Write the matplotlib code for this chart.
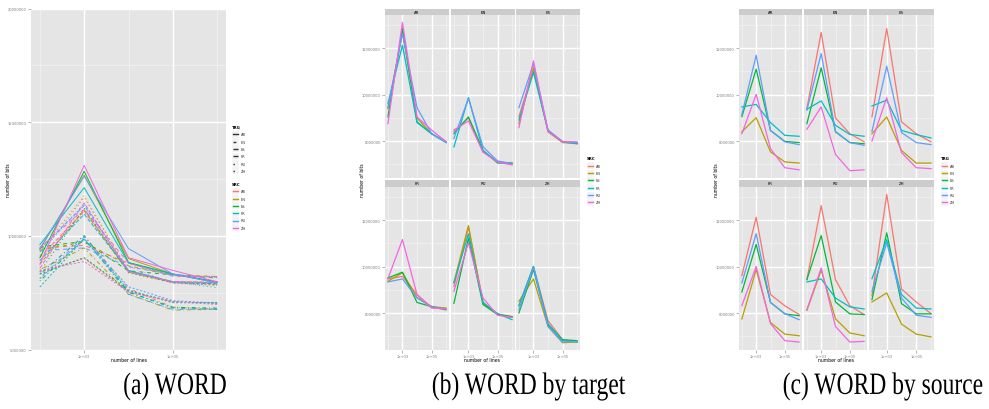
import matplotlib
matplotlib.use('Agg')
import matplotlib.pyplot as plt
from matplotlib.lines import Line2D
from matplotlib.patches import Rectangle, PathPatch
from matplotlib.textpath import TextPath
from matplotlib.font_manager import FontProperties
from matplotlib.transforms import Affine2D, IdentityTransform

W, H = 989, 410

# x values (number of lines) and languages
n_lines = [1e2, 1e3, 1e4, 1e5, 1e6]
langs = ['AR', 'EN', 'ES', 'FR', 'RU', 'ZH']

# number of bits, per source language, one list per target language
src_AR = {'EN': [8.40e6, 9.01e6, 7.54e6, 7.11e6, 7.06e6],
          'ES': [9.05e6, 11.09e6, 8.46e6, 7.99e6, 7.94e6],
          'FR': [9.47e6, 9.58e6, 8.80e6, 8.25e6, 8.21e6],
          'RU': [9.14e6, 11.69e6, 8.46e6, 7.97e6, 7.85e6],
          'ZH': [8.32e6, 10.01e6, 7.68e6, 6.86e6, 6.77e6]}
src_EN = {'AR': [9.40e6, 12.67e6, 9.00e6, 8.32e6, 7.97e6],
          'ES': [8.75e6, 11.15e6, 8.40e6, 7.94e6, 7.89e6],
          'FR': [9.37e6, 9.73e6, 8.68e6, 8.29e6, 8.21e6],
          'RU': [9.33e6, 11.76e6, 8.42e6, 7.94e6, 7.82e6],
          'ZH': [8.51e6, 9.47e6, 7.43e6, 6.73e6, 6.77e6]}
src_ES = {'AR': [9.04e6, 12.84e6, 8.83e6, 8.32e6, 7.97e6],
          'EN': [8.32e6, 9.04e6, 7.60e6, 7.06e6, 7.06e6],
          'FR': [9.51e6, 9.76e6, 8.46e6, 8.28e6, 8.14e6],
          'RU': [8.42e6, 11.22e6, 8.37e6, 7.94e6, 7.85e6],
          'ZH': [8.01e6, 9.87e6, 7.51e6, 6.86e6, 6.82e6]}
src_FR = {'AR': [9.61e6, 12.12e6, 8.80e6, 8.32e6, 7.94e6],
          'EN': [7.75e6, 9.87e6, 7.60e6, 7.10e6, 7.03e6],
          'ES': [8.91e6, 10.95e6, 8.46e6, 7.97e6, 7.89e6],
          'RU': [9.30e6, 11.41e6, 8.46e6, 7.98e6, 7.72e6],
          'ZH': [8.32e6, 10.01e6, 7.55e6, 6.82e6, 6.76e6]}
src_RU = {'AR': [9.44e6, 12.62e6, 9.44e6, 8.32e6, 7.94e6],
          'EN': [8.12e6, 9.84e6, 7.76e6, 7.15e6, 7.03e6],
          'ES': [9.44e6, 11.33e6, 8.48e6, 7.97e6, 7.94e6],
          'FR': [9.34e6, 9.47e6, 8.65e6, 8.27e6, 8.18e6],
          'ZH': [8.15e6, 9.94e6, 7.43e6, 6.76e6, 6.79e6]}
src_ZH = {'AR': [8.75e6, 13.10e6, 9.04e6, 8.48e6, 7.98e6],
          'EN': [8.48e6, 8.87e6, 7.53e6, 7.10e6, 6.98e6],
          'ES': [8.58e6, 11.45e6, 8.41e6, 7.97e6, 7.97e6],
          'FR': [9.48e6, 11.16e6, 8.80e6, 8.22e6, 8.18e6],
          'RU': [8.94e6, 11.02e6, 8.65e6, 7.91e6, 7.82e6]}

bits = {'AR': src_AR, 'EN': src_EN, 'ES': src_ES,
        'FR': src_FR, 'RU': src_RU, 'ZH': src_ZH}

captions = ['(a) WORD', '(b) WORD by target', '(c) WORD by source']

# ggplot default hue palette and linetypes
hue = dict(zip(langs, ['#F8766D', '#B79F00', '#00BA38', '#00BFC4', '#619CFF', '#F564E3']))
ltype = dict(zip(langs, ['-', (0, (2, 2)), (0, (4, 2)), (0, (4, 4)), (0, (1, 3)), (0, (1, 3, 4, 3))]))

GREY_TXT = '#7F7F7F'


def px_axes(fig, x0, y0, x1, y1):
    return fig.add_axes([x0 / W, 1 - y1 / H, (x1 - x0) / W, (y1 - y0) / H])


def style_panel(ax, ylim, yticks, ylabels, yminor, show_y, show_x):
    ax.set_facecolor('#E5E5E5')
    ax.set_xscale('log')
    ax.set_xlim(10 ** 1.8, 10 ** 6.2)
    ax.set_ylim(*ylim)
    for s in ax.spines.values():
        s.set_visible(False)
    for v in [1e2, 1e4, 1e6]:
        ax.axvline(v, color='#F2F2F2', lw=0.5, zorder=0)
    for v in yminor:
        ax.axhline(v, color='#F2F2F2', lw=0.5, zorder=0)
    for v in [1e3, 1e5]:
        ax.axvline(v, color='white', lw=1.0, zorder=0)
    for v in yticks:
        ax.axhline(v, color='white', lw=1.0, zorder=0)
    ax.set_xticks([1e3, 1e5])
    ax.set_xticks([], minor=True)
    ax.set_yticks(yticks)
    ax.tick_params(length=2, width=0.4, color=GREY_TXT, labelsize=2.6,
                   labelcolor=GREY_TXT, pad=1)
    if show_x:
        ax.set_xticklabels(['1e+03', '1e+05'])
    else:
        ax.tick_params(axis='x', length=0, labelbottom=False)
    if show_y:
        ax.set_yticklabels(ylabels)
    else:
        ax.tick_params(axis='y', length=0, labelleft=False)


def strip(fig, x0, y0, x1, y1, label):
    s = px_axes(fig, x0, y0, x1, y1)
    s.set_facecolor('#CCCCCC')
    s.set_xticks([])
    s.set_yticks([])
    for sp in s.spines.values():
        sp.set_visible(False)
    s.text(0.5, 0.5, label, fontsize=2.8, ha='center', va='center', transform=s.transAxes)


def legend(fig, x, y, title, entries):
    fig.text(x / W, 1 - y / H, title, fontsize=2.8, weight='bold', va='center', ha='left')
    for i, (lab, col, ls) in enumerate(entries):
        yy = y + 7.3 * (i + 1)
        fig.add_artist(Rectangle((x / W, 1 - (yy + 3.5) / H), 7 / W, 7 / H,
                                 transform=fig.transFigure, facecolor='#F2F2F2',
                                 edgecolor='white', lw=0.3))
        fig.add_artist(Line2D([(x + 0.8) / W, (x + 6.2) / W], [1 - yy / H] * 2,
                              transform=fig.transFigure, color=col, lw=1.0, linestyle=ls))
        fig.text((x + 8.5) / W, 1 - yy / H, lab, fontsize=2.6, va='center', ha='left',
                 color='#333333')


def caption(fig, text, cx, cy, size_px, xscale):
    # serif caption, squeezed horizontally, placed in pixel coordinates
    tp = TextPath((0, 0), text, size=size_px, prop=FontProperties(family='Liberation Serif'))
    bb = tp.get_extents()
    tr = (Affine2D().translate(-(bb.x0 + bb.x1) / 2, -(bb.y0 + bb.y1) / 2)
          .scale(xscale, 1).translate(cx, H - cy))
    fig.add_artist(PathPatch(tr.transform_path(tp), transform=IdentityTransform(),
                             facecolor='black', edgecolor='none'))


fig = plt.figure(figsize=(W / 100, H / 100), dpi=100)

# (a) all pairs: colour = source, linetype = target
ax = px_axes(fig, 31, 9.5, 226, 350.5)
style_panel(ax, (5e6, 2e7), [5e6, 1e7, 1.5e7, 2e7],
            ['5000000', '10000000', '15000000', '20000000'],
            [7.5e6, 1.25e7, 1.75e7], True, True)
for s in langs:
    for t in langs:
        if t in bits[s]:
            ax.plot(n_lines, bits[s][t], color=hue[s], linestyle=ltype[t], lw=0.7, zorder=2)
fig.text(9 / W, 1 - 180 / H, 'number of bits', rotation=90, fontsize=3.3, ha='center', va='center')
fig.text(129 / W, 1 - 361 / H, 'number of lines', fontsize=3.3, ha='center', va='center')
legend(fig, 232, 128, 'TRG', [(l, '#333333', ltype[l]) for l in langs])
legend(fig, 232, 185, 'SRC', [(l, hue[l], '-') for l in langs])

# facet layout shared by (b) and (c)
rows = [((9.5, 15.7), (15.7, 178.5)), ((181, 187.7), (187.7, 350.5))]
facet_ylim = (6.44e6, 13.43e6)
facet_ticks = [8e6, 1e7, 1.2e7]
facet_labels = ['8000000', '10000000', '12000000']
facet_minor = [7e6, 9e6, 1.1e7, 1.3e7]


def facets(cols, by_target, ylab_x, xlab_x, leg_x, leg_title):
    for k, f in enumerate(langs):
        r, c = divmod(k, 3)
        (sy0, sy1), (py0, py1) = rows[r]
        x0, x1 = cols[c]
        strip(fig, x0, sy0, x1, sy1, f)
        a = px_axes(fig, x0, py0, x1, py1)
        style_panel(a, facet_ylim, facet_ticks, facet_labels, facet_minor, c == 0, r == 1)
        for g in langs:
            if by_target:
                src, trg = g, f
            else:
                src, trg = f, g
            if trg in bits[src]:
                a.plot(n_lines, bits[src][trg], color=hue[g], lw=0.9, zorder=2)
    fig.text(ylab_x / W, 1 - 180 / H, 'number of bits', rotation=90, fontsize=3.3,
             ha='center', va='center')
    fig.text(xlab_x / W, 1 - 361 / H, 'number of lines', fontsize=3.3, ha='center', va='center')
    legend(fig, leg_x, 159.5, leg_title, [(l, hue[l], '-') for l in langs])


# (b) faceted by target, coloured by source
facets([(385, 449), (451, 515), (516, 580)], True, 362, 482, 587, 'SRC')
# (c) faceted by source, coloured by target
facets([(739, 802), (804, 867), (869, 934)], False, 716, 836, 941, 'TRG')

for x, cap in zip([175, 529, 883], captions):
    caption(fig, cap, x, 387.5, 31, 0.76)

fig.savefig('out.png', dpi=100)
